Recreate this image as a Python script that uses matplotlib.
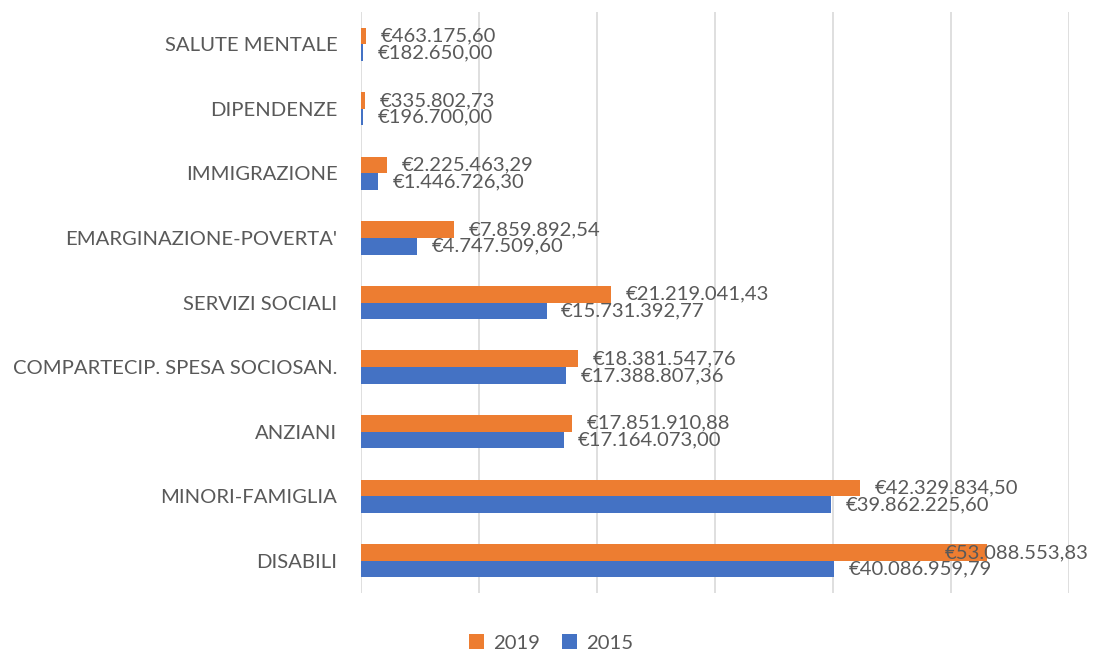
import matplotlib.pyplot as plt
import numpy as np

# categories from bottom to top
categories = ['DISABILI', 'MINORI-FAMIGLIA', 'ANZIANI', 'COMPARTECIP. SPESA SOCIOSAN.',
              'SERVIZI SOCIALI', "EMARGINAZIONE-POVERTA'", 'IMMIGRAZIONE', 'DIPENDENZE',
              'SALUTE MENTALE']
spesa_2019 = [53088553.83, 42329834.50, 17851910.88, 18381547.76, 21219041.43,
              7859892.54, 2225463.29, 335802.73, 463175.60]
spesa_2015 = [40086959.79, 39862225.60, 17164073.00, 17388807.36, 15731392.77,
              4747509.60, 1446726.30, 196700.00, 182650.00]

c2019 = '#ED7D31'
c2015 = '#4472C4'
txt_color = '#595959'
font = 'Lato'
fs = 14.6
lab_off = 10.5


def euro(v):
    s = f'{v:,.2f}'
    s = s.replace(',', 'X').replace('.', ',').replace('X', '.')
    return '€' + s


fig = plt.figure(figsize=(10.93, 6.52), dpi=100)
ax = fig.add_axes([361 / 1093, 1 - 593 / 652, (1069 - 361) / 1093, (593 - 12) / 652])

y = np.arange(len(categories))
h = 0.258
b19 = ax.barh(y + h / 2, spesa_2019, height=h, color=c2019, label='2019', zorder=3)
b15 = ax.barh(y - h / 2, spesa_2015, height=h, color=c2015, label='2015', zorder=3)

ax.set_xlim(0, 60e6)
ax.set_ylim(-0.5, 8.5)
ax.set_xticks(np.arange(0, 60e6 + 1, 10e6))
ax.set_xticklabels([])
ax.grid(axis='x', color='#D9D9D9', linewidth=1.2, zorder=0)
ax.tick_params(axis='both', length=0)
ax.tick_params(axis='y', pad=17)
ax.set_yticks(y)
ax.set_yticklabels(categories, fontsize=fs, color=txt_color, family=font)
for sp in ax.spines.values():
    sp.set_visible(False)

labels = []
for vals, off in ((spesa_2019, h / 2), (spesa_2015, -h / 2)):
    for yi, v in zip(y, vals):
        t = ax.annotate(euro(v), (v, yi + off), xytext=(lab_off, 0), textcoords='offset points',
                        va='center', ha='left', fontsize=fs, color=txt_color, family=font,
                        zorder=4)
        labels.append(t)

# keep labels inside the figure, like Excel does
fig.canvas.draw()
W = fig.bbox.width
for t in labels:
    bb = t.get_window_extent()
    if bb.x1 > W - 4:
        shift = (bb.x1 - (W - 4)) * 72 / fig.dpi
        t.set_position((lab_off - shift, 0))

leg = fig.legend([b19, b15], ['2019', '2015'], loc='center',
                 ncol=2, frameon=False, prop={'family': font, 'size': fs},
                 handlelength=0.75, handleheight=0.75, handletextpad=0.45, columnspacing=1.1,
                 borderaxespad=0)
for t in leg.get_texts():
    t.set_color(txt_color)
leg.set_bbox_to_anchor((551 / 1093, 1 - 643 / 652), transform=fig.transFigure)

fig.savefig('out.png', dpi=100)
